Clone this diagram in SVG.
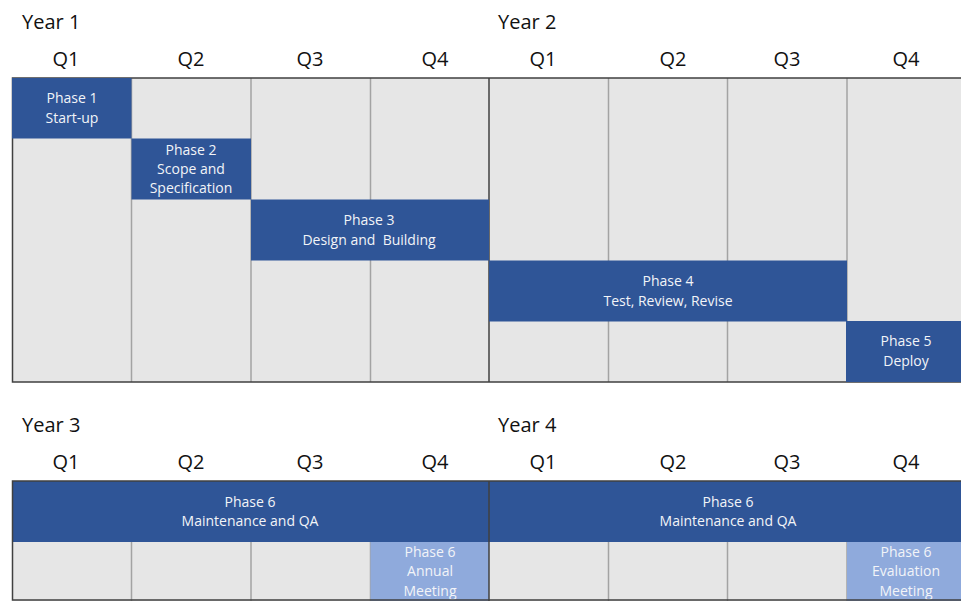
<svg xmlns="http://www.w3.org/2000/svg" width="961" height="601" viewBox="0 0 961 601">
<style>
.hdr{font-family:"Open Sans","Liberation Sans",sans-serif;font-size:20px;fill:#111}
.q{text-anchor:middle}
.cell{fill:#e6e6e6}
.blk{fill:#2f5597}
.lt{fill:#8faadc}
.pt{font-family:"Open Sans","Liberation Sans",sans-serif;font-size:14px;fill:#f2f4f8;text-anchor:middle}
.vl{stroke:#a3a3a3;stroke-width:1.5}
.dk{stroke:#404040;stroke-width:1.5;fill:none}
</style>
<rect width="961" height="601" fill="#ffffff"/>
<g id="headers">
<text class="hdr" x="22" y="29">Year 1</text>
<text class="hdr" x="498" y="29">Year 2</text>
<text class="hdr q" x="66" y="66">Q1</text>
<text class="hdr q" x="191" y="66">Q2</text>
<text class="hdr q" x="310" y="66">Q3</text>
<text class="hdr q" x="435" y="66">Q4</text>
<text class="hdr q" x="543" y="66">Q1</text>
<text class="hdr q" x="673" y="66">Q2</text>
<text class="hdr q" x="787" y="66">Q3</text>
<text class="hdr q" x="906" y="66">Q4</text>
<text class="hdr" x="22" y="432">Year 3</text>
<text class="hdr" x="498" y="432">Year 4</text>
<text class="hdr q" x="66" y="469">Q1</text>
<text class="hdr q" x="191" y="469">Q2</text>
<text class="hdr q" x="310" y="469">Q3</text>
<text class="hdr q" x="435" y="469">Q4</text>
<text class="hdr q" x="543" y="469">Q1</text>
<text class="hdr q" x="673" y="469">Q2</text>
<text class="hdr q" x="787" y="469">Q3</text>
<text class="hdr q" x="906" y="469">Q4</text>
</g>
<g id="grid-top">
<rect class="cell" x="12" y="78" width="960" height="304"/>
<line class="vl" x1="131.5" y1="78" x2="131.5" y2="382"/>
<line class="vl" x1="251" y1="78" x2="251" y2="382"/>
<line class="vl" x1="370.5" y1="78" x2="370.5" y2="382"/>
<line class="vl" x1="608.5" y1="78" x2="608.5" y2="382"/>
<line class="vl" x1="727.5" y1="78" x2="727.5" y2="382"/>
<line class="vl" x1="847" y1="78" x2="847" y2="382"/>
<line class="dk" x1="489" y1="78" x2="489" y2="382"/>
<path class="dk" d="M961,78 H12.5 V382 H961"/>
</g>
<g id="grid-bottom">
<rect class="cell" x="12" y="481" width="960" height="120"/>
<line class="vl" x1="131.5" y1="481" x2="131.5" y2="601"/>
<line class="vl" x1="251" y1="481" x2="251" y2="601"/>
<line class="vl" x1="370.5" y1="481" x2="370.5" y2="601"/>
<line class="vl" x1="608.5" y1="481" x2="608.5" y2="601"/>
<line class="vl" x1="727.5" y1="481" x2="727.5" y2="601"/>
<line class="vl" x1="847" y1="481" x2="847" y2="601"/>
</g>
<g id="phase1">
<rect class="blk" x="12" y="78" width="119.5" height="60.5"/>
<text class="pt" x="72" y="103">Phase 1</text>
<text class="pt" x="72" y="123">Start-up</text>
</g>
<g id="phase2">
<rect class="blk" x="131.5" y="138.5" width="119.5" height="61"/>
<text class="pt" x="191" y="155">Phase 2</text>
<text class="pt" x="191" y="174">Scope and</text>
<text class="pt" x="191" y="193">Specification</text>
</g>
<g id="phase3">
<rect class="blk" x="251" y="199.5" width="238" height="61"/>
<text class="pt" x="369" y="225">Phase 3</text>
<text class="pt" x="369" y="245" xml:space="preserve">Design and  Building</text>
</g>
<g id="phase4">
<rect class="blk" x="489" y="260.5" width="358" height="61"/>
<text class="pt" x="668" y="286">Phase 4</text>
<text class="pt" x="668" y="306">Test, Review, Revise</text>
</g>
<g id="phase5">
<rect class="blk" x="846" y="321" width="115" height="61"/>
<text class="pt" x="906" y="346">Phase 5</text>
<text class="pt" x="906" y="366">Deploy</text>
</g>
<g id="phase6-y3">
<rect class="blk" x="12" y="481" width="477" height="61"/>
<text class="pt" x="250" y="507">Phase 6</text>
<text class="pt" x="250" y="526">Maintenance and QA</text>
</g>
<g id="phase6-y4">
<rect class="blk" x="489" y="481" width="472" height="61"/>
<text class="pt" x="728" y="507">Phase 6</text>
<text class="pt" x="728" y="526">Maintenance and QA</text>
</g>
<g id="annual-meeting">
<rect class="lt" x="370.5" y="542" width="118.5" height="59"/>
<text class="pt" x="430" y="557">Phase 6</text>
<text class="pt" x="430" y="576">Annual</text>
<text class="pt" x="430" y="596">Meeting</text>
</g>
<g id="evaluation-meeting">
<rect class="lt" x="847" y="542" width="114" height="59"/>
<text class="pt" x="906" y="557">Phase 6</text>
<text class="pt" x="906" y="576">Evaluation</text>
<text class="pt" x="906" y="596">Meeting</text>
</g>
<g id="connectors">
<line class="dk" x1="489" y1="481" x2="489" y2="601"/>
<path class="dk" d="M961,481 H12.5 V600 H961"/>
</g>
</svg>
